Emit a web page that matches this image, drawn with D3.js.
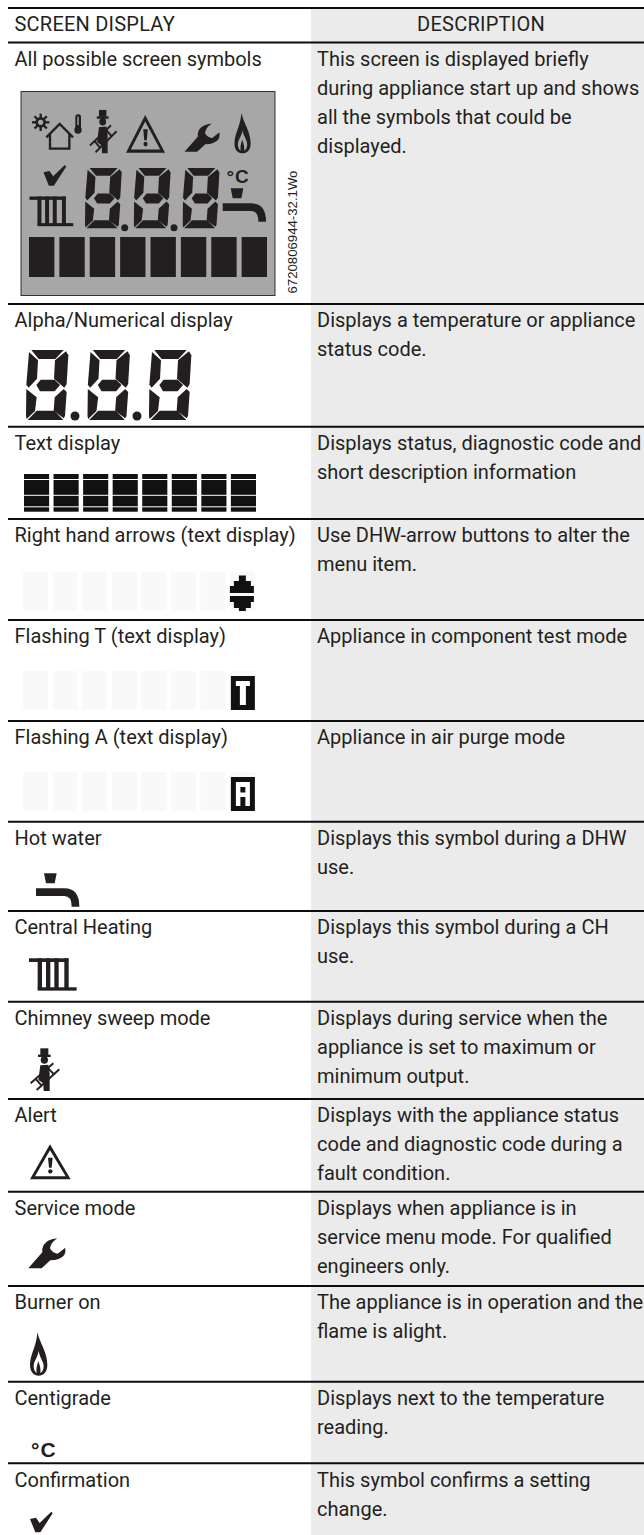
<!DOCTYPE html>
<html><head><meta charset="utf-8">
<script src="https://cdn.jsdelivr.net/npm/d3@7/dist/d3.min.js"></script>
<style>html,body{margin:0;padding:0;background:#fff}svg{display:block}</style></head>
<body><svg id="c" width="644" height="1535"></svg>
<script>
const headers = ["SCREEN DISPLAY", "DESCRIPTION"];
const rowLabels = ["All possible screen symbols","Alpha/Numerical display","Text display","Right hand arrows (text display)","Flashing T (text display)","Flashing A (text display)","Hot water","Central Heating","Chimney sweep mode","Alert","Service mode","Burner on","Centigrade","Confirmation"];
const rowDescriptions = [
 ["This screen is displayed briefly","during appliance start up and shows","all the symbols that could be","displayed."],
 ["Displays a temperature or appliance","status code."],
 ["Displays status, diagnostic code and","short description information"],
 ["Use DHW-arrow buttons to alter the","menu item."],
 ["Appliance in component test mode"],
 ["Appliance in air purge mode"],
 ["Displays this symbol during a DHW","use."],
 ["Displays this symbol during a CH","use."],
 ["Displays during service when the","appliance is set to maximum or","minimum output."],
 ["Displays with the appliance status","code and diagnostic code during a","fault condition."],
 ["Displays when appliance is in","service menu mode. For qualified","engineers only."],
 ["The appliance is in operation and the","flame is alight."],
 ["Displays next to the temperature","reading."],
 ["This symbol confirms a setting","change."]
];
const partNumber = "6720806944-32.1Wo";
const digitIds = [0,1,2];
const cellIds = [0,1,2,3,4,5,6,7];

// ---- layout
const W = 644, H = 1535, INK = "#231f20";
const headerTop = 8;
const rowTops = [42.5,304,426.7,519,620,721,821.7,911,1001.7,1099,1191.7,1286,1381.7,1463.3];
const yRow = d3.scaleOrdinal(rowLabels, rowTops);
const ruleY = [headerTop, ...rowTops];
const colSplit = 311, textL = 14.5, textR = 317, baseOff = 23.2, lineStep = 29;
const FONT = "Roboto, 'Noto Sans', sans-serif";
const FS = 20, LS = 0;

const svg = d3.select("#c");
svg.append("rect").attr("x",colSplit).attr("y",headerTop).attr("width",W-colSplit).attr("height",H-headerTop).attr("fill","#ebebeb");
svg.selectAll("line.rule").data(ruleY).join("line").attr("class","rule")
  .attr("x1",8).attr("x2",W).attr("y1",d=>d).attr("y2",d=>d).attr("stroke","#0c0c0c").attr("stroke-width",2);

function txt(sel,x,y,s){return sel.append("text").attr("x",x).attr("y",y).attr("font-family",FONT).attr("font-size",FS).attr("letter-spacing",LS).attr("fill",INK).text(s);}
txt(svg,textL,31,headers[0]).attr("letter-spacing",0.22);
txt(svg,481,31,headers[1]).attr("text-anchor","middle").attr("letter-spacing",0.25);
rowLabels.forEach((l,i)=>{
  const y = yRow(l)+baseOff;
  txt(svg,textL,y,l);
  rowDescriptions[i].forEach((d,j)=>txt(svg,textR,y+j*lineStep,d));
});

// ---- symbols, drawn in their own local units, placed by transform
const poly = pts => "M"+pts.map(p=>p.join(",")).join("L")+"Z";
const segs = [
 [[16,0],[113,0],[88,27],[38,27]],
 [[9,6],[36,31],[33,86],[8,113],[1,104]],
 [[120,4],[127,16],[122,102],[115,113],[84,86],[87,31]],
 [[31,105],[44,89],[86,89],[102,105],[86,124],[42,124]],
 [[1,117],[32,142],[27,183],[2,207],[0,198]],
 [[113,117],[122,126],[117,198],[113,205],[83,182],[86,142]],
 [[32,182],[85,182],[112,210],[5,210]]
];
function place(x,y,sx,sy){return svg.append("g").attr("transform",`translate(${x},${y}) scale(${sx},${sy===undefined?sx:sy})`).attr("fill",INK);}
function digit(x,y,sx,sy){place(x,y,sx,sy).selectAll("path").data(segs).join("path").attr("d",d=>poly(d));}
function dot(x,y,r){svg.append("circle").attr("cx",x).attr("cy",y).attr("r",r).attr("fill",INK);}

function tap(x,y,s){const g=place(x,y,s);
  g.append("path").attr("d",poly([[24,0],[62,0],[56,30],[30,30]]));
  g.append("path").attr("d","M0,45L85,45Q130,45 130,100L107,100Q107,68 85,68L0,68Z");}
function radiator(x,y,s){const g=place(x,y,s);
  g.append("rect").attr("x",0).attr("y",0).attr("width",118).attr("height",11);
  g.append("rect").attr("x",26).attr("y",87).attr("width",117).attr("height",10);
  g.selectAll("rect.v").data([26,51,76,106]).join("rect").attr("class","v").attr("x",d=>d).attr("y",0).attr("width",13).attr("height",92);}
function sweep(x,y,sx,sy){const g=place(x,y,sx,sy);
  g.append("rect").attr("x",46).attr("y",25).attr("width",24).attr("height",20);
  g.append("rect").attr("x",39).attr("y",44).attr("width",38).attr("height",7);
  g.append("circle").attr("cx",58).attr("cy",60).attr("r",11);
  g.append("path").attr("d","M46,76L70,74L74,100L74,153L56,153L55,130L40,120Z");
  g.append("g").attr("fill","none").attr("stroke",INK).attr("stroke-width",6)
   .selectAll("path").data(["M17,130L85,70","M35,150L103,88","M31,116L50,137","M68,83L87,103"]).join("path").attr("d",d=>d);}
function alert(x,y,sx,sy){const g=place(x,y,sx,sy);
  g.append("path").attr("fill-rule","evenodd").attr("d","M60,0L122,105L0,105ZM60,18L15,96L107,96Z");
  g.append("path").attr("d","M54,40L68,40L65,70L57,70Z");
  g.append("circle").attr("cx",61).attr("cy",81).attr("r",6.5);}
function wrench(x,y,s){const g=place(x,y,s);
  g.append("path").attr("d","M87,0Q58,2 46,20Q40,32 42,42L0,90L40,90L66,66Q95,66 108,50Q113,40 111,28L88,46Q72,44 65,30Q68,12 87,0Z");}
function flame(x,y,s){const g=place(x,y,s);
  g.append("path").attr("fill-rule","evenodd").attr("d","M22,0C30,34 52,60 52,98C52,120 40,130 26,130C12,130 0,120 0,98C0,66 20,42 22,0ZM26,56C23,76 11,86 11,102C11,112 15,119 20,122C18,112 20,100 25,86C30,100 33,112 31,122C37,119 41,112 41,102C41,86 29,76 26,56Z");}
function check(x,y,s){place(x,y,s).append("path").attr("d",poly([[0,22],[18,18],[29,34],[64,0],[68,5],[31,62],[16,62]]));}
function degC(x,y,fs){svg.append("text").attr("x",x).attr("y",y).attr("font-family","'Liberation Sans',Arial,sans-serif").attr("font-weight",700).attr("font-size",fs).attr("letter-spacing",1).attr("fill",INK).text("°C");}
function house(x,y,s){const g=place(x,y,s);
  g.append("path").attr("fill","none").attr("stroke",INK).attr("stroke-width",7).attr("d","M55,97L95,57L135,97M66,88L66,131L124,131L124,88");
  const sun=g.append("g").attr("transform","translate(38,52)");
  sun.append("circle").attr("r",12).attr("fill","none").attr("stroke",INK).attr("stroke-width",8);
  sun.selectAll("line").data(d3.range(8)).join("line").attr("x1",0).attr("x2",0).attr("y1",12).attr("y2",26)
    .attr("stroke",INK).attr("stroke-width",7).attr("transform",d=>`rotate(${d*45})`);
  g.append("rect").attr("x",142).attr("y",28).attr("width",17).attr("height",50).attr("rx",8);
  g.append("circle").attr("cx",150).attr("cy",75).attr("r",11);
  g.append("rect").attr("x",147).attr("y",35).attr("width",6).attr("height",25).attr("fill","#a7a7a7").attr("opacity",.7);}

const cellX = d3.scaleBand().domain(cellIds).range([23,255]).paddingInner(0.15);

// LCD panel
svg.append("rect").attr("x",21).attr("y",91.5).attr("width",254).attr("height",204).attr("fill","#a7a7a7").attr("stroke","#333").attr("stroke-width",1);
house(28,105,1/3);
sweep(84.7,101.5,0.31,0.338);
alert(126,115,0.32,0.359);
wrench(184.5,123.5,0.315);
flame(234.5,113,0.31);
check(43.5,165,1/3);
radiator(29.5,196.5,0.306);
const lcdX = d3.scaleLinear().domain([0,2]).range([85,182.7]);
digitIds.forEach(i=>digit(lcdX(i),168,0.289,0.287));
dot(124.7,227.7,3.5);dot(174,227.7,3.5);
degC(226.5,182.7,19);
tap(222.7,188.3,1/3);
const lcdBar = d3.scaleBand().domain(cellIds).range([29,267]).paddingInner(0.165);
svg.selectAll("rect.lcd").data(cellIds).join("rect").attr("class","lcd").attr("x",d=>lcdBar(d)).attr("y",237).attr("width",lcdBar.bandwidth()).attr("height",40).attr("fill",INK);
svg.append("text").attr("transform","translate(297,293.5) rotate(-90)").attr("font-family","'Liberation Sans',Arial,sans-serif").attr("font-size",13.2).attr("fill",INK).text(partNumber);

// Alpha/Numeric row
const numX = d3.scaleLinear().domain([0,2]).range([26,149]);
digitIds.forEach(i=>digit(numX(i),350,1/3));
dot(75,416,4.5);dot(137,416,4.5);

// Text display row
const tY=474,tH=37.7;
svg.selectAll("rect.t").data(cellIds).join("rect").attr("class","t").attr("x",d=>cellX(d)+1).attr("y",tY).attr("width",cellX.bandwidth()).attr("height",tH).attr("fill","#111");
svg.selectAll("line.tl").data([479.5,495.3,506.8]).join("line").attr("class","tl").attr("x1",20).attr("x2",262).attr("y1",d=>d).attr("y2",d=>d).attr("stroke","#fff").attr("stroke-width",1);

// Ghost cells
function ghost(y){svg.append("g").selectAll("rect").data(cellIds).join("rect").attr("x",d=>cellX(d)).attr("y",y).attr("width",cellX.bandwidth()).attr("height",39).attr("fill","#f9f9f9");}
ghost(571.7);ghost(671);ghost(772);

// stepped arrows
const a=svg.append("g").attr("transform",`translate(${cellX(7)},0)`).attr("fill","#111");
a.selectAll("rect").data(["up3","up2","up1","dn1","dn2","dn3"]).join("rect")
  .attr("x",(d,i)=>[9,4,0,0,4,9][i]).attr("width",(d,i)=>[7,17,24,24,17,7][i])
  .attr("y",(d,i)=>[575.5,581,586,596,601.5,608][i]).attr("height",(d,i)=>[5.5,5,7,6,6.5,3][i]);

// Flashing T / A
function blk(y){const g=svg.append("g").attr("transform",`translate(${cellX(7)+1},${y})`);
  g.append("rect").attr("width",24).attr("height",34).attr("fill","#111");return g;}
const t=blk(676);
t.append("rect").attr("x",5).attr("y",5).attr("width",14).attr("height",5).attr("fill","#fff");
t.append("rect").attr("x",9).attr("y",10).attr("width",6).attr("height",19).attr("fill","#fff");
const aa=blk(777);
aa.append("path").attr("fill","#fff").attr("fill-rule","evenodd").attr("d","M5,5H19V29H14.5V20H9.5V29H5ZM9.5,10V15.5H14.5V10Z");

// Standalone icons
tap(36,873.3,1/3);
radiator(29,958.3,1/3);
sweep(25,1040,1/3);
alert(30,1144.3,1/3);
wrench(28.3,1238.3,1/3);
flame(30,1332.3,1/3);
degC(31,1456.7,21);
check(30,1511.7,1/3);
</script></body></html>
